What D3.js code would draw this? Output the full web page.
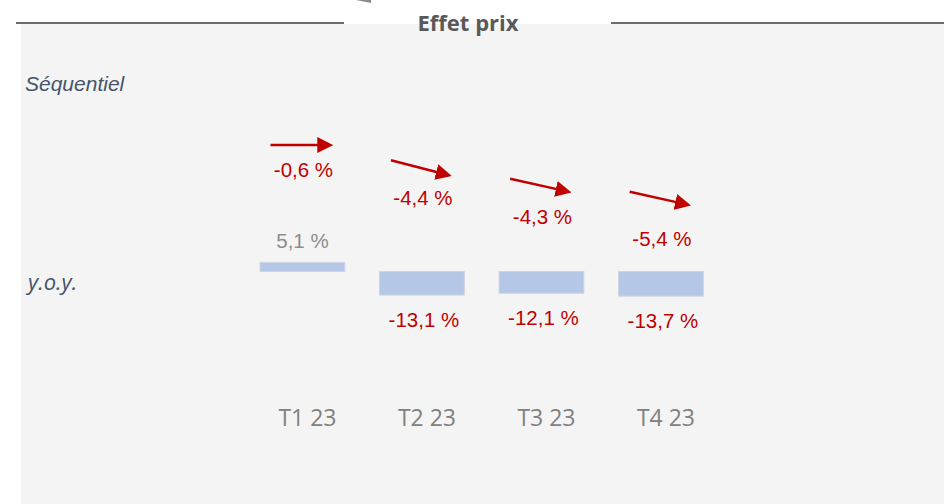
<html>
<head>
    <meta charset="utf-8">
    <title>Effet prix</title>
    <style>
        body {
            padding: 0;
            margin: 0;
            background: white;
            font-family: "Liberation Sans", Arial, sans-serif;
        }
        .panel { fill: #f4f4f4; }
        .rule { stroke: #6b6b6b; stroke-width: 2; }
        .title { font-family: "Open Sans", sans-serif; font-weight: bold; font-size: 22px; fill: #595959; }
        .rowlabel { font-style: italic; fill: #44546a; }
        .bars { fill: #b4c7e7; stroke: #d0d6de; stroke-width: 1; }
        .yoy-label { font-size: 20.5px; }
        .seq-label { font-size: 20.5px; fill: #c00000; }
        .cat-label { font-family: "Open Sans", sans-serif; font-size: 23px; fill: #808080; }
        .arrow { stroke: #c00000; stroke-width: 2.5; fill: none; }
    </style>
</head>
<body>
    <div id="chart"></div>
    <script src="https://d3js.org/d3.v7.min.js"></script>
    <script>
        // data
        var quarters = ["T1 23", "T2 23", "T3 23", "T4 23"];
        var yoy = [5.1, -13.1, -12.1, -13.7];
        var sequential = [-0.6, -4.4, -4.3, -5.4];

        // layout of the arrow row (staircase, not to scale)
        var arrowMidY = [145, 168, 185.5, 198.5];
        var arrowTilt = [0, 14.5, 12.5, 12.5];
        var seqLabelY = [177, 205, 224, 246];

        var width = 944, height = 504;

        var svg = d3.select("#chart")
            .append("svg")
            .attr("width", width)
            .attr("height", height);

        var fmt = function (v) {
            return d3.format(".1f")(v).replace(".", ",").replace("−", "-") + " %";
        };

        // background panel + title rules
        svg.append("rect").attr("class", "panel")
            .attr("x", 21).attr("y", 24).attr("width", width - 21).attr("height", height - 24);
        svg.append("line").attr("class", "rule").attr("x1", 16).attr("x2", 344).attr("y1", 23).attr("y2", 23);
        svg.append("line").attr("class", "rule").attr("x1", 611).attr("x2", width).attr("y1", 23).attr("y2", 23);
        svg.append("path").attr("d", "M356,0 L371,0 L371,3 Z").attr("fill", "#8a8a8a");
        svg.append("text").attr("class", "title")
            .attr("x", 468).attr("y", 31).attr("text-anchor", "middle").text("Effet prix");

        svg.append("text").attr("class", "rowlabel")
            .attr("x", 25).attr("y", 91).style("font-size", "21px").text("Séquentiel");
        svg.append("text").attr("class", "rowlabel")
            .attr("x", 28).attr("y", 290)
            .style("font-family", "'Open Sans', sans-serif").style("font-size", "22px").text("y.o.y.");

        var x = d3.scaleBand()
            .domain(quarters)
            .range([242.7, 720.7])
            .paddingInner(0.29)
            .paddingOuter(0.145);

        var y = d3.scaleLinear()
            .domain([-10, 10])
            .range([271.5 + 18, 271.5 - 18]);

        // y.o.y. bars
        svg.append("g")
            .selectAll("rect")
            .data(yoy)
            .enter()
            .append("rect")
            .attr("class", "bars")
            .attr("x", function (d, i) { return x(quarters[i]); })
            .attr("width", x.bandwidth())
            .attr("y", function (d) { return Math.min(y(d), y(0)); })
            .attr("height", function (d) { return Math.abs(y(d) - y(0)); });

        svg.append("g")
            .selectAll("text")
            .data(yoy)
            .enter()
            .append("text")
            .attr("class", "yoy-label")
            .attr("text-anchor", "middle")
            .attr("x", function (d, i) { return x(quarters[i]) + x.bandwidth() / 2 + (d < 0 ? 2 : 0); })
            .attr("y", function (d) { return d >= 0 ? y(d) - 14 : y(d) + 32; })
            .attr("fill", function (d) { return d >= 0 ? "#8c8c8c" : "#c00000"; })
            .text(fmt);

        // sequential arrows
        var defs = svg.append("defs");
        defs.append("marker")
            .attr("id", "head")
            .attr("viewBox", "0 0 10 10")
            .attr("refX", 2).attr("refY", 5)
            .attr("markerWidth", 6.4).attr("markerHeight", 6.8)
            .attr("markerUnits", "strokeWidth")
            .attr("orient", "auto")
            .append("path")
            .attr("d", "M0,0 L10,5 L0,10 Z")
            .attr("fill", "#c00000");

        var arrowLen = 50;
        svg.append("g")
            .selectAll("line")
            .data(sequential)
            .enter()
            .append("line")
            .attr("class", "arrow")
            .attr("marker-end", "url(#head)")
            .attr("transform", function (d, i) {
                var cx = x(quarters[i]) + x.bandwidth() / 2 - 1;
                return "translate(" + cx + "," + arrowMidY[i] + ") rotate(" + arrowTilt[i] + ")";
            })
            .attr("x1", -31).attr("x2", -31 + arrowLen)
            .attr("y1", 0).attr("y2", 0);

        svg.append("g")
            .selectAll("text")
            .data(sequential)
            .enter()
            .append("text")
            .attr("class", "seq-label")
            .attr("text-anchor", "middle")
            .attr("x", function (d, i) { return x(quarters[i]) + x.bandwidth() / 2 + 1; })
            .attr("y", function (d, i) { return seqLabelY[i]; })
            .text(fmt);

        // quarter labels
        svg.append("g")
            .selectAll("text")
            .data(quarters)
            .enter()
            .append("text")
            .attr("class", "cat-label")
            .attr("text-anchor", "middle")
            .attr("x", function (d) { return x(d) + x.bandwidth() / 2 + 5; })
            .attr("y", 426)
            .text(function (d) { return d; });
    </script>
</body>
</html>
